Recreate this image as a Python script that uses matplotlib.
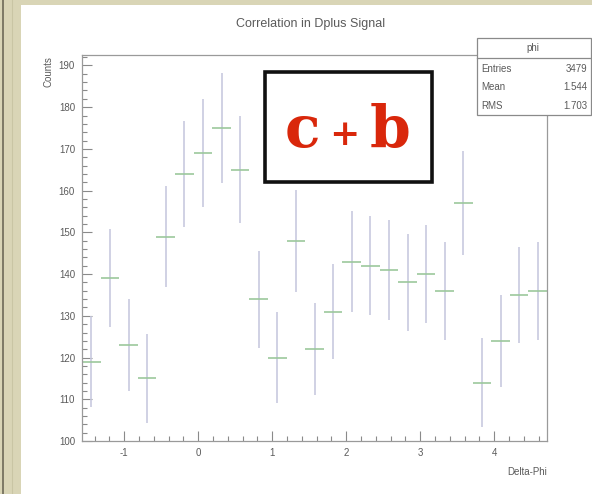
import numpy as np
import matplotlib
matplotlib.use('Agg')
import matplotlib.pyplot as plt
from matplotlib.patches import Rectangle
from matplotlib.ticker import MultipleLocator

# histogram of Delta-Phi, 25 bins from -pi/2 to 3pi/2
counts = [119, 139, 123, 115, 149, 164, 169, 175, 165, 134, 120, 148, 122,
          131, 143, 142, 141, 138, 140, 136, 157, 114, 124, 135, 136]
errors = [10.9, 11.8, 11.1, 10.7, 12.2, 12.8, 13.0, 13.2, 12.8, 11.6, 11.0, 12.2, 11.0,
          11.4, 12.0, 11.9, 11.9, 11.7, 11.8, 11.7, 12.5, 10.7, 11.1, 11.6, 11.7]
stats_rows = [('Entries', '3479'), ('Mean', '1.544'), ('RMS', '1.703')]

plt.rcParams['axes.unicode_minus'] = False

W, H = 592, 494
fig = plt.figure(figsize=(W / 100, H / 100), dpi=100)
fig.patch.set_facecolor('#d9d5b6')

def fx(x):
    return x / W

def fy(y):
    return 1 - y / H

narrow = ['Liberation Sans Narrow', 'Liberation Sans', 'DejaVu Sans']
grey = '#5a5a5a'

# white canvas + texture-ish left lines
fig.patches.append(Rectangle((fx(21), 0), 1 - fx(21), fy(5), transform=fig.transFigure,
                             facecolor='white', edgecolor='none', zorder=-5))
fig.lines.append(plt.Line2D([fx(3), fx(3)], [0, 1], transform=fig.transFigure,
                            color='#6d6a58', lw=1.2, zorder=-5))
fig.lines.append(plt.Line2D([fx(12), fx(12)], [0, 1], transform=fig.transFigure,
                            color='#c9c5a4', lw=0.8, zorder=-5))

left, right, top, bottom = 82, 547, 55, 441
ax = fig.add_axes([fx(left), fy(bottom), fx(right - left), fy(top) - fy(bottom)])
ax.set_zorder(1)
ax.set_facecolor('white')

edges = np.linspace(-np.pi / 2, 3 * np.pi / 2, len(counts) + 1)
centers = 0.5 * (edges[:-1] + edges[1:])
half = 0.5 * (edges[1] - edges[0])

ax.errorbar(centers, counts, yerr=errors, fmt='none', ecolor='#c8cadf', elinewidth=1.2,
            capsize=0)
ax.errorbar(centers, counts, xerr=half, fmt='none', ecolor='#9cc89c', elinewidth=1.2,
            capsize=0)

ax.set_xlim(-np.pi / 2, 3 * np.pi / 2)
ax.set_ylim(100, 192.5)
ax.xaxis.set_major_locator(MultipleLocator(1))
ax.xaxis.set_minor_locator(MultipleLocator(0.2))
ax.yaxis.set_major_locator(MultipleLocator(10))
ax.yaxis.set_minor_locator(MultipleLocator(2))
ax.tick_params(which='both', direction='in', colors='#8a8a8a', top=False, right=False)
ax.tick_params(which='major', length=7, width=0.8, labelsize=7, labelcolor=grey, pad=5)
ax.tick_params(which='minor', length=3.5, width=0.8)
for lab in ax.get_xticklabels() + ax.get_yticklabels():
    lab.set_family(narrow)
for sp in ax.spines.values():
    sp.set_color('#9a9a9a')
    sp.set_linewidth(0.9)

fig.text(fx(311), fy(24), 'Correlation in Dplus Signal', ha='center', va='center',
         fontsize=9, color=grey, family=narrow)
fig.text(fx(48), fy(56), 'Counts', rotation=90, ha='center', va='top',
         fontsize=7, color=grey, family=narrow)
fig.text(fx(547), fy(472), 'Delta-Phi', ha='right', va='center',
         fontsize=7, color=grey, family=narrow)

# stats box
fig.patches.append(Rectangle((fx(477), fy(115)), fx(591 - 477), fy(38) - fy(115),
                             transform=fig.transFigure, facecolor='white',
                             edgecolor='#8a8a8a', lw=0.9, zorder=5))
fig.lines.append(plt.Line2D([fx(477), fx(591)], [fy(58), fy(58)], transform=fig.transFigure,
                            color='#8a8a8a', lw=0.9, zorder=6))
fig.text(fx(533), fy(48), 'phi', ha='center', va='center', fontsize=7, color=grey,
         family=narrow, zorder=7)
for i, (name, val) in enumerate(stats_rows):
    y = 69 + i * 18.5
    fig.text(fx(481), fy(y), name, ha='left', va='center', fontsize=7, color=grey,
             family=narrow, zorder=7)
    fig.text(fx(587), fy(y), val, ha='right', va='center', fontsize=7, color=grey,
             family=narrow, zorder=7)

# "c + b" label box
fig.patches.append(Rectangle((fx(265), fy(182)), fx(432 - 265), fy(72) - fy(182),
                             transform=fig.transFigure, facecolor='white',
                             edgecolor='#111111', lw=2.6, zorder=8))
red = '#d9270b'
serif = dict(family='DejaVu Serif', weight='bold', color=red, zorder=9,
             ha='center', va='baseline')
fig.text(fx(302), fy(147), 'c', fontsize=42, **serif)
fig.text(fx(344), fy(145), '+', fontsize=26, **serif)
fig.text(fx(390), fy(147), 'b', fontsize=42, **serif)

fig.savefig('out.png', dpi=100, facecolor=fig.get_facecolor())
